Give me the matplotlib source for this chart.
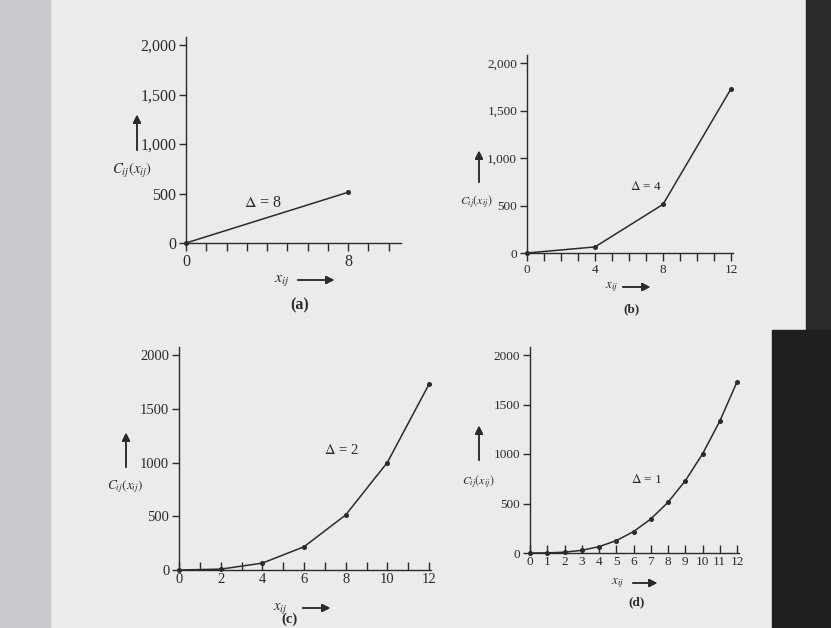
import matplotlib.pyplot as plt
from matplotlib.patches import Rectangle

plt.rcParams['font.family'] = ['Liberation Serif', 'DejaVu Serif']
plt.rcParams['mathtext.fontset'] = 'stix'

W, H = 831, 628

# values
x_a = [0, 8]
c_a = [0, 512]
x_b = [0, 4, 8, 12]
c_b = [0, 64, 512, 1728]
x_c = [0, 2, 4, 6, 8, 10, 12]
c_c = [0, 8, 64, 216, 512, 1000, 1728]
x_d = [0, 1, 2, 3, 4, 5, 6, 7, 8, 9, 10, 11, 12]
c_d = [0, 1, 8, 27, 64, 125, 216, 343, 512, 729, 1000, 1331, 1728]

deltas = ['8', '4', '2', '1']
panel_names = ['(a)', '(b)', '(c)', '(d)']
yticks = [0, 500, 1000, 1500, 2000]
ylabels_comma = ['0', '500', '1,000', '1,500', '2,000']
ylabels_plain = ['0', '500', '1000', '1500', '2000']

ink = '#2b2b2d'


def fx(px):
    return px / W


def fy(py):
    return 1 - py / H


fig = plt.figure(figsize=(W / 100, H / 100), dpi=100, facecolor='#ebebed')
fig.patches.append(Rectangle((0, 0), fx(50), 1, transform=fig.transFigure,
                             color='#c9c9cd', zorder=0))
fig.patches.append(Rectangle((fx(806), fy(330)), 1, 1, transform=fig.transFigure,
                             color='#2a2a2c', zorder=0))
fig.patches.append(Rectangle((fx(772), 0), 1, fy(330), transform=fig.transFigure,
                             color='#1f1f21', zorder=0))

# panel geometry in pixels: x of origin, x of last unit, xmax, y of 0, y of 2000
panels = [
    dict(xs=x_a, cs=c_a, x0=186, x1=348, xu=8, xmax=10.6, y0=243, y2k=45,
         xtl=[0, 8], ylab=ylabels_comma, tdir='out', fs=11.5,
         delta=(3.8, 400), cl=(132, 170), ca=(137, 153, 112),
         xl=(282, 280), xa=(295, 337), name=(300, 305)),
    dict(xs=x_b, cs=c_b, x0=527, x1=731, xu=12, xmax=12.1, y0=253, y2k=63,
         xtl=[0, 4, 8, 12], ylab=ylabels_comma, tdir='out', fs=9.5,
         delta=(7.0, 700), cl=(476, 201), ca=(479, 185, 148),
         xl=(612, 287), xa=(620, 653), name=(631, 309)),
    dict(xs=x_c, cs=c_c, x0=179, x1=429, xu=12, xmax=12.1, y0=570, y2k=355,
         xtl=list(range(0, 13, 2)), ylab=ylabels_plain, tdir='in', fs=10.5,
         delta=(7.8, 1120), cl=(125, 487), ca=(126, 470, 430),
         xl=(280, 608), xa=(300, 333), name=(290, 619)),
    dict(xs=x_d, cs=c_d, x0=530, x1=737, xu=12, xmax=12.1, y0=553, y2k=355,
         xtl=list(range(13)), ylab=ylabels_plain, tdir='in', fs=9.5,
         delta=(6.8, 740), cl=(478, 482), ca=(479, 463, 423),
         xl=(618, 583), xa=(630, 660), name=(637, 602)),
]

for p, d, nm in zip(panels, deltas, panel_names):
    unit = (p['x1'] - p['x0']) / p['xu']
    left = p['x0']
    width = unit * p['xmax']
    top = p['y2k'] - 8
    height = p['y0'] - top
    ymax = 2000 * height / (p['y0'] - p['y2k'])
    fs = p['fs']
    ax = fig.add_axes([fx(left), fy(p['y0']), fx(width), height / H])
    ax.set_facecolor('none')
    ax.plot(p['xs'], p['cs'], color=ink, lw=1.1, marker='o', ms=2.6,
            clip_on=False)
    ax.set_xlim(0, p['xmax'])
    ax.set_ylim(0, ymax)
    ax.set_yticks(yticks)
    ax.set_yticklabels(p['ylab'])
    n = int(p['xmax']) + 1
    ax.set_xticks(range(n))
    ax.set_xticklabels([str(i) if i in p['xtl'] else '' for i in range(n)])
    for s in ['top', 'right']:
        ax.spines[s].set_visible(False)
    for s in ['left', 'bottom']:
        ax.spines[s].set_color(ink)
        ax.spines[s].set_linewidth(1.0)
    ax.tick_params(axis='y', direction='out', length=5, width=1, colors=ink,
                   labelsize=fs, pad=2)
    ax.tick_params(axis='x', direction=p['tdir'], length=6, width=1, colors=ink,
                   labelsize=fs, pad=2)
    ax.text(p['delta'][0], p['delta'][1], r'$\Delta$ = ' + d, ha='center',
            va='center', fontsize=fs, color=ink)

    fig.text(fx(p['cl'][0]), fy(p['cl'][1]), r'$C_{ij}(x_{ij})$', ha='center',
             va='center', fontsize=fs - 1, color=ink)
    ax_x, ay_from, ay_to = p['ca']
    fig.add_artist(plt.annotate('', xy=(fx(ax_x), fy(ay_to)),
                                xytext=(fx(ax_x), fy(ay_from)),
                                xycoords='figure fraction',
                                arrowprops=dict(arrowstyle='-|>', color=ink,
                                                lw=1.1, mutation_scale=12)))
    fig.text(fx(p['xl'][0]), fy(p['xl'][1]), r'$x_{ij}$', ha='center',
             va='center', fontsize=fs, color=ink)
    fig.add_artist(plt.annotate('', xy=(fx(p['xa'][1]), fy(p['xl'][1])),
                                xytext=(fx(p['xa'][0]), fy(p['xl'][1])),
                                xycoords='figure fraction',
                                arrowprops=dict(arrowstyle='-|>', color=ink,
                                                lw=1.1, mutation_scale=12)))
    fig.text(fx(p['name'][0]), fy(p['name'][1]), nm, ha='center', va='center',
             fontsize=fs, fontweight='bold', color=ink)

fig.savefig('out.png', dpi=100, facecolor=fig.get_facecolor())
